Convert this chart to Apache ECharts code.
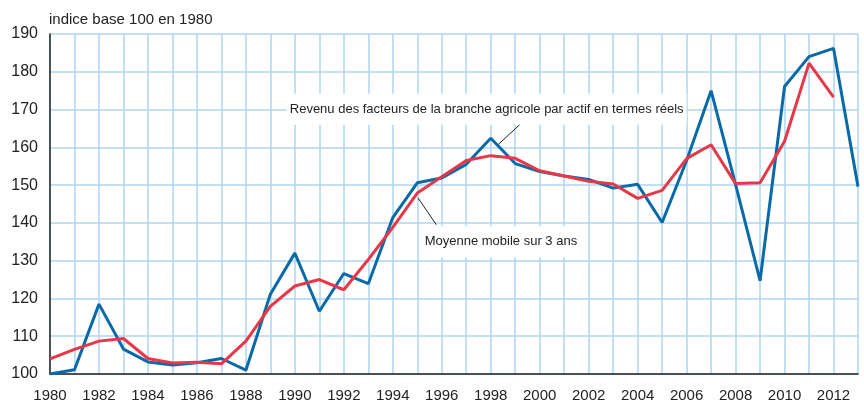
<!DOCTYPE html>
<html>
<head>
<meta charset="utf-8">
<script src="https://cdn.jsdelivr.net/npm/echarts@6/dist/echarts.min.js"></script>
<style>
html,body{margin:0;padding:0;background:#fff;}
#chart{width:864px;height:403px;}
</style>
</head>
<body>
<div id="chart"></div>
<script>
const years = [1980,1981,1982,1983,1984,1985,1986,1987,1988,1989,1990,1991,1992,1993,1994,1995,1996,1997,1998,1999,2000,2001,2002,2003,2004,2005,2006,2007,2008,2009,2010,2011,2012,2013];
const revenu = [100,101.1,118.5,106.6,103.2,102.4,103,104.1,101,121.1,132,116.6,126.6,123.9,141.4,150.6,151.9,155.5,162.4,155.7,153.6,152.4,151.5,149.2,150.2,140.1,156.5,175,150.1,124.7,176.1,184,186.2,149.6];
const moyenne = [104,106.5,108.7,109.4,104.1,102.9,103.1,102.7,108.7,117.9,123.3,125,122.3,130.3,138.8,147.9,152.2,156.5,157.8,157.1,153.8,152.4,151,150.3,146.5,148.6,157,160.7,150.4,150.6,161.6,182.3,173.3,null];
const yTicks = [100,110,120,130,140,150,160,170,180,190];
const yAxisTitle = 'indice base 100 en 1980';
const labelRevenu = 'Revenu des facteurs de la branche agricole par actif en termes réels';
const labelMoyenne = 'Moyenne mobile sur 3 ans';

const FONT = '"Liberation Sans", Arial, sans-serif';
const chart = echarts.init(document.getElementById('chart'), null, {renderer:'canvas'});

const option = {
  animation: false,
  backgroundColor: '#fff',
  grid: {left: 50, right: 6, top: 34, bottom: 29, containLabel: false},
  xAxis: {
    type: 'value', min: years[0], max: years[years.length-1], interval: 1,
    axisLine: {show: true, onZero: false, lineStyle: {color: '#222', width: 1.5}},
    axisTick: {show: false},
    splitLine: {show: true, lineStyle: {color: '#acd6f2', width: 1.5}},
    axisLabel: {
      color: '#222', fontSize: 15, fontFamily: FONT, margin: 14,
      formatter: v => (v % 2 === 0 && v < 2013) ? String(v) : ''
    }
  },
  yAxis: {
    type: 'value', min: yTicks[0], max: yTicks[yTicks.length-1], interval: 10,
    axisLine: {show: true, onZero: false, lineStyle: {color: '#222', width: 1.5}},
    axisTick: {show: false},
    splitLine: {show: true, lineStyle: {color: '#acd6f2', width: 1.5}},
    axisLabel: {color: '#222', fontSize: 16, fontFamily: FONT, margin: 12}
  },
  series: [
    {
      name: 'revenu', type: 'line', symbol: 'none',
      data: years.map((y,i) => [y, revenu[i]]),
      lineStyle: {color: '#0a6aa8', width: 3}, z: 3
    },
    {
      name: 'moyenne', type: 'line', symbol: 'none',
      data: years.map((y,i) => [y, moyenne[i]]).filter(d => d[1] !== null),
      lineStyle: {color: '#e83848', width: 3}, z: 4
    }
  ]
};
chart.setOption(option);

function px(x, y) { return chart.convertToPixel({gridIndex: 0}, [x, y]); }

const a1 = px(1989.67, 170.1);
const a2 = px(1995.18, 135.0);
const l1a = px(1999.25, 166.4), l1b = px(1998.3, 160.7);
const l2a = px(1995.03, 146.6), l2b = px(1995.78, 139.5);

chart.setOption({
  graphic: [
    {type: 'text', left: 49, top: 12, style: {text: yAxisTitle, fontSize: 15, fontFamily: FONT, fill: '#222'}},
    {type: 'line', shape: {x1: l1a[0], y1: l1a[1], x2: l1b[0], y2: l1b[1]}, style: {stroke: '#222', lineWidth: 1}, z: 10},
    {type: 'line', shape: {x1: l2a[0], y1: l2a[1], x2: l2b[0], y2: l2b[1]}, style: {stroke: '#222', lineWidth: 1}, z: 10},
    {type: 'text', x: a1[0], y: a1[1], z: 10,
      style: {text: labelRevenu, fontSize: 13, fontFamily: FONT, fill: '#222', verticalAlign: 'middle', align: 'left',
        backgroundColor: '#fff', padding: [9, 3, 9, 3]}},
    {type: 'text', x: a2[0], y: a2[1], z: 10,
      style: {text: labelMoyenne, fontSize: 13, fontFamily: FONT, fill: '#222', verticalAlign: 'middle', align: 'left',
        backgroundColor: '#fff', padding: [9, 3, 9, 3]}}
  ]
});
</script>
</body>
</html>
